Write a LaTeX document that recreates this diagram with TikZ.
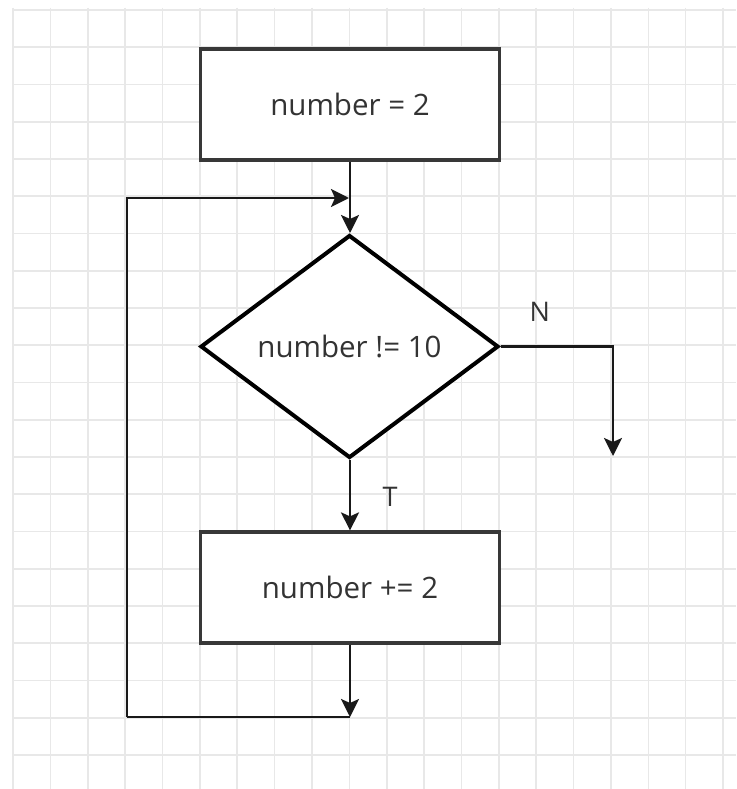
\documentclass[tikz,border=0pt]{standalone}
\usepackage{fontspec}
\setmainfont{Open Sans}
\usetikzlibrary{shapes.geometric,arrows.meta}

\definecolor{gridgray}{HTML}{E8E8E8}
\definecolor{boxline}{HTML}{383838}
\definecolor{txt}{HTML}{333333}

\tikzset{
  procbox/.style={draw=boxline, line width=3.2pt, fill=white,
    minimum width=299pt, minimum height=111pt, inner sep=0pt,
    text=txt, font=\fontsize{29.5}{34}\selectfont},
  decision/.style={diamond, draw=black, line width=4pt, fill=white,
    minimum width=298pt, minimum height=223pt, inner sep=0pt,
    text=txt, font=\fontsize{29.5}{34}\selectfont},
  flow/.style={draw=black!90, line width=2.6pt,
    -{Stealth[length=18pt,width=18pt,inset=4pt]}},
  plainflow/.style={draw=black!90, line width=2.6pt},
  edgelabel/.style={text=txt, font=\fontsize{27}{32}\selectfont, inner sep=0pt}
}

\begin{document}
\begin{tikzpicture}[x=1pt,y=-1pt]
  % page and background
  \useasboundingbox (0,0) rectangle (736,789);
  \fill[white] (0,0) rectangle (736,789);

  % squared paper
  \foreach \i in {0,...,19}
    \draw[gridgray, line width=1.6pt] ({13+37.37*\i},8) -- ({13+37.37*\i},789);
  \foreach \j in {0,...,20}
    \draw[gridgray, line width=1.6pt] (13,{10+37.25*\j}) -- (736,{10+37.25*\j});

  % flowchart nodes
  \node[procbox] (init) at (350,104.5) {number = 2};
  \node[decision] (test) at (349.5,346.5) {number != 10};
  \node[procbox] (incr) at (350,587.5) {number += 2};

  % free ends of the connectors
  \coordinate (loopend) at (350,717);
  \coordinate (loopleft) at (127,717);
  \coordinate (join) at (349,198);
  \coordinate (exitend) at (613,456);

  % connectors
  \draw[flow] (init.south) -- (init.south |- test.north);
  \draw[flow] (init.south |- test.south) -- node[edgelabel, pos=0.53, xshift=40pt] {T} (incr.north);
  \draw[flow] (test.east) -| node[edgelabel, pos=0.175, yshift=35pt] {N} (exitend);
  \draw[flow] (incr.south) -- (loopend);
  \draw[plainflow] (loopend) -- (loopleft);
  \draw[flow] (loopleft) |- (join);
\end{tikzpicture}
\end{document}
